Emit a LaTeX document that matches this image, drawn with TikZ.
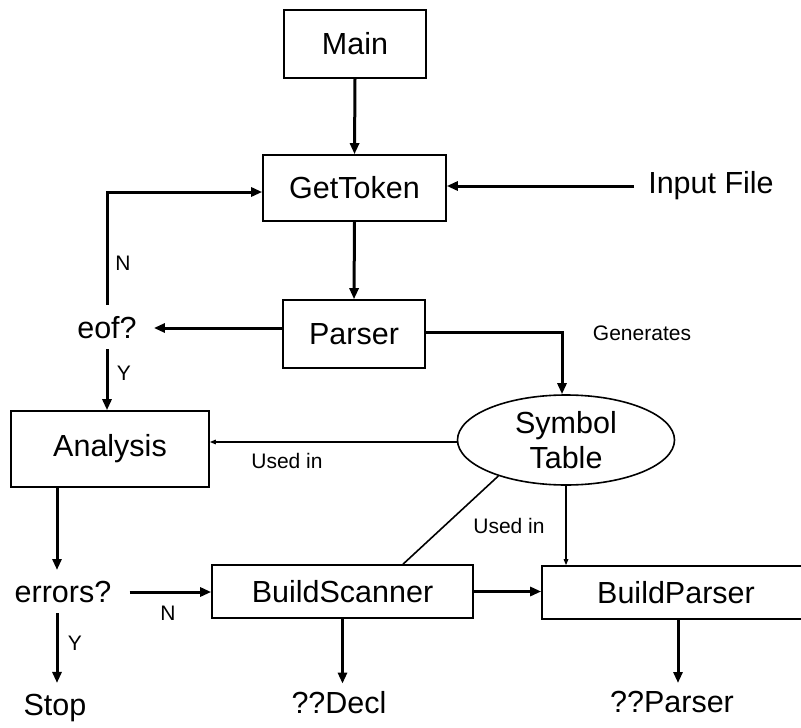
\documentclass[tikz,border=0pt]{standalone}
\usepackage{fontspec}
\setmainfont{Liberation Sans}
\usetikzlibrary{arrows.meta,shapes.geometric}
\begin{document}
\begin{tikzpicture}[x=1pt,y=-1pt,
  big/.style={font=\fontsize{30.5}{34}\selectfont},
  small/.style={font=\fontsize{21}{24}\selectfont, inner sep=0pt},
  boxnode/.style={draw, line width=1.6pt, big, inner sep=0pt},
  txt/.style={big, inner sep=0pt},
  flow/.style={line width=3pt, -{Triangle[length=11pt,width=9pt]}},
  thinflow/.style={line width=1.4pt, -{Triangle[length=6pt,width=4.5pt]}},
  thinline/.style={line width=1.6pt}]
\path[use as bounding box] (0,0) rectangle (801,728);

% boxes
\node[boxnode, minimum width=142pt, minimum height=68pt] (main) at (355,44) {Main};
\node[boxnode, minimum width=183pt, minimum height=66pt] (gettoken) at (354.5,188) {GetToken};
\node[boxnode, minimum width=142pt, minimum height=68pt] (parser) at (354,334) {Parser};
\node[boxnode, minimum width=198pt, minimum height=76pt] (analysis) at (110,449) {Analysis};
\node[boxnode, minimum width=261pt, minimum height=53pt] (bscan) at (342.5,591.5) {BuildScanner};
\node[boxnode, minimum width=268pt, minimum height=53pt] (bparser) at (676,592.5) {BuildParser};
\node[draw, ellipse, line width=1.6pt, big, inner sep=0pt, minimum width=217pt, minimum height=90pt, align=center] (symtab) at (566,440) {Symbol\\[1pt]Table};

% plain texts
\node[txt] (input) at (711,186) {Input File};
\node[txt] (eof) at (107,328) {eof?};
\node[txt] (errors) at (63,592) {errors?};
\node[txt] (stop) at (55,708) {Stop};
\node[txt] (decl) at (339,703) {??Decl};
\node[txt] (pparser) at (672,702) {??Parser};

% labels
\node[small] (lN1) at (123,263) {N};
\node[small] (lY1) at (124,373) {Y};
\node[small] (lgen) at (642,333) {Generates};
\node[small] (luse1) at (287,461) {Used in};
\node[small] (luse2) at (509,526) {Used in};
\node[small] (lN2) at (168,613) {N};
\node[small] (lY2) at (75,643) {Y};

% connectors
\draw[flow] (main.south) -- (gettoken.north);
\draw[flow, shorten <=14pt] (input.west) -- (input.west -| gettoken.east);
\draw[flow] (gettoken.south) -- (parser.north);
\draw[flow, shorten >=17pt] (parser.west |- eof.east) -- (eof.east);
\draw[flow, shorten <=12pt] (eof.north) |- ([yshift=-4pt]gettoken.west);
\draw[flow, shorten <=10pt] (eof.south) -- (eof.south |- analysis.north);
\draw[flow] ([yshift=2pt]parser.east) -| ([xshift=-4pt]symtab.north);
\draw[thinflow] ([yshift=-2pt]symtab.west) -- ([yshift=-2pt]symtab.west -| analysis.east);
\draw[flow, shorten >=11pt] ([xshift=-6pt]errors.north |- analysis.south) -- ([xshift=-6pt]errors.north);
\draw[flow, shorten <=18pt] (errors.east) -- (errors.east -| bscan.west);
\draw[flow, shorten <=10pt, shorten >=11pt] ([xshift=-6pt]errors.south) -- ([xshift=-6pt]errors.south |- stop.north);
\draw[flow] (bscan.east) -- (bscan.east -| bparser.west);
\draw[flow, shorten >=8pt] (bscan.south) -- (bscan.south |- decl.north);
\draw[flow, shorten >=8pt] ([xshift=2pt]bparser.south) -- ([xshift=2pt]bparser.south |- pparser.north);
\draw[thinline] (symtab.208) -- ([xshift=60.5pt]bscan.north);
\draw[thinflow] (symtab.south) -- (symtab.south |- bparser.north);
\end{tikzpicture}
\end{document}
